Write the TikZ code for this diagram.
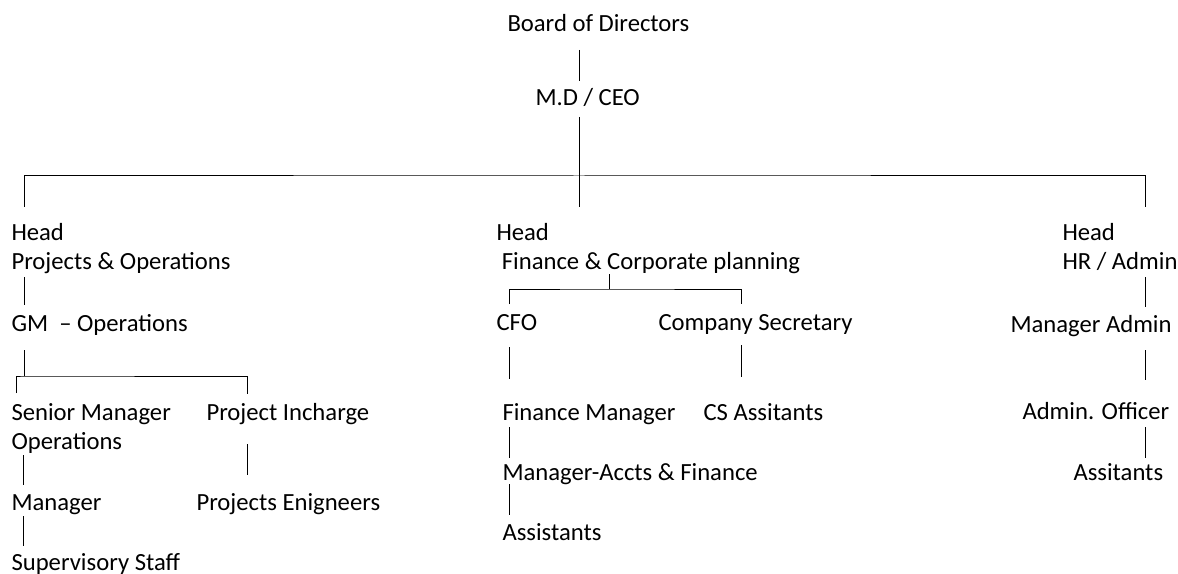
\documentclass[tikz,border=0pt]{standalone}
\usepackage{fontspec}
\setmainfont{Carlito}

\tikzset{
  lbl/.style={anchor=base west, inner sep=0pt, align=left},
  gap/.style 2 args={shorten <=#1*0.75pt, shorten >=#2*0.75pt}
}

\begin{document}
\begin{tikzpicture}[x=0.75pt, y=-0.75pt, line width=0.75pt,
  font=\fontsize{18.5pt}{21.75pt}\selectfont]
  \useasboundingbox (0,0) rectangle (1178,574);

  % top
  \node[lbl] (bod) at (507,32) {Board of Directors};
  \node[lbl] (ceo) at (535,106) {M.D / CEO};

  % heads (base = last line)
  \node[lbl] (hpo) at (11,269) {Head\\Projects \& Operations};
  \node[lbl] (hfc) at (496,269) {Head\\\hspace*{4pt}Finance \& Corporate planning};
  \node[lbl] (hhr) at (1062,269) {Head\\HR / Admin};

  % projects & operations
  \node[lbl] (gmo) at (11,331) {GM~~-- Operations};
  \node[lbl] (sm) at (11,449) {Senior Manager\\Operations};
  \node[lbl] (pi) at (206,420) {Project Incharge};
  \node[lbl] (mgr) at (11,510) {Manager};
  \node[lbl] (pe) at (196,510) {Projects Enigneers};
  \node[lbl] (sup) at (11,570) {Supervisory Staff};

  % finance
  \node[lbl] (cfo) at (496,330) {CFO};
  \node[lbl] (cs) at (658,330) {Company Secretary};
  \node[lbl] (fm) at (502,420) {Finance Manager};
  \node[lbl] (csa) at (703,420) {CS Assitants};
  \node[lbl] (mac) at (502,480) {Manager-Accts \& Finance};
  \node[lbl] (asst) at (502,540) {Assistants};

  % hr
  \node[lbl] (ma) at (1010,332) {Manager Admin};
  \node[lbl] (ao) at (1022,419) {Admin. Officer};
  \node[lbl] (ast) at (1073,480) {Assitants};

  \coordinate (cx) at (579,0);
  \coordinate (lx) at (24,0);
  \coordinate (rx) at (1145,0);
  \coordinate (sx) at (16,0);
  \coordinate (ox) at (23,0);
  \coordinate (px) at (247,0);
  \coordinate (fx) at (509,0);
  \coordinate (kx) at (741,0);
  \coordinate (bar1) at (579,176);
  \coordinate (bar2) at (24,376);
  \coordinate (bar3) at (609,289);

  \draw[gap={18}{25}] (bod.base -| cx) -- (ceo.base -| cx);
  \draw[gap={11}{62}] (ceo.base -| cx) -- (hfc.base -| cx);
  \draw[gap={62}{62}] (hpo.base -| lx) |- (bar1) -| (hhr.base -| rx);

  \draw[gap={8}{26}] (hpo.base -| lx) -- (gmo.base -| lx);
  \draw[gap={19}{0}] (gmo.base -| lx) -- (bar2);
  \draw[gap={56}{26}] (sm.base -| sx) |- (bar2) -| (pi.base -| px);
  \draw[gap={6}{25}] (sm.base -| ox) -- (mgr.base -| ox);
  \draw[gap={6}{24}] (mgr.base -| ox) -- (sup.base -| ox);
  \draw[gap={24}{35}] (pi.base -| px) -- (pe.base -| px);

  \draw[gap={5}{0}] (hfc.base -| bar3) -- (bar3);
  \draw[gap={26}{26}] (cfo.base -| fx) |- (bar3) -| (cs.base -| kx);
  \draw[gap={17}{41}] (cfo.base -| fx) -- (fm.base -| fx);
  \draw[gap={15}{43}] (cs.base -| kx) -- (csa.base -| kx);
  \draw[gap={7}{22}] (fm.base -| fx) -- (mac.base -| fx);
  \draw[gap={4}{25}] (mac.base -| fx) -- (asst.base -| fx);

  \draw[gap={8}{25}] (hhr.base -| rx) -- (ma.base -| rx);
  \draw[gap={18}{39}] (ma.base -| rx) -- (ao.base -| rx);
  \draw[gap={8}{22}] (ao.base -| rx) -- (ast.base -| rx);
\end{tikzpicture}
\end{document}
